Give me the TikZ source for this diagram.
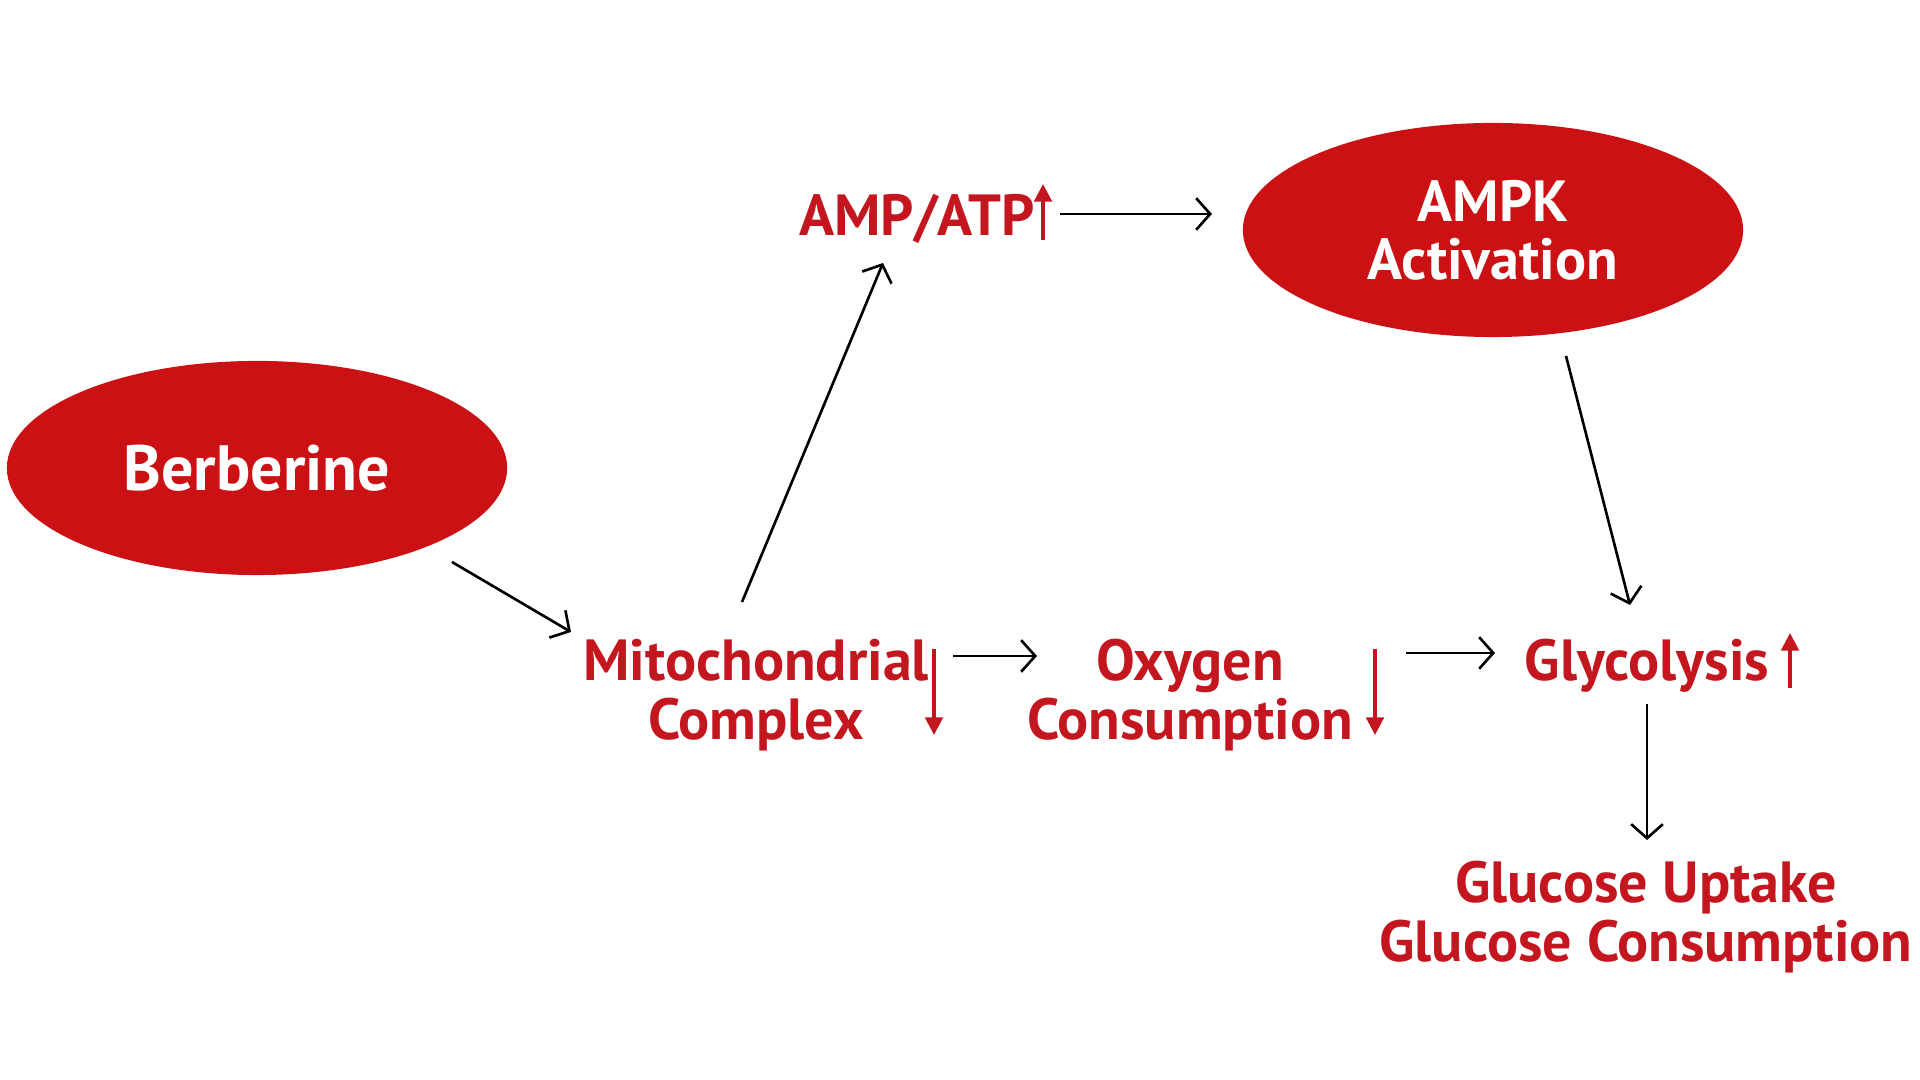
\documentclass[tikz,border=0pt]{standalone}
\usepackage{fontspec}
\setmainfont{PT Sans}
\usepackage{tikz}
\usetikzlibrary{arrows.meta, shapes.geometric, calc}
\definecolor{berbred}{RGB}{204,17,20}
\definecolor{textred}{RGB}{196,22,30}

\begin{document}
\begin{tikzpicture}[
        x=0.01cm, y=-0.01cm,
        blob/.style={ellipse, fill=berbred, minimum width=5cm, minimum height=2.14cm, align=center, text=white, font=\fontsize{16.5}{16.5}\selectfont\bfseries},
        term/.style={align=center, text=textred, inner sep=0pt, font=\fontsize{16.5}{16.8}\selectfont\bfseries},
        link/.style={-{Straight Barb[length=4pt, width=9pt]}, line width=0.75pt},
        trend/.style={-{Triangle[length=5pt, width=5pt]}, draw=textred, line width=0.9pt}
    ]
        \useasboundingbox (0,0) rectangle (1920,1080);
        \node[blob, font=\fontsize{18.2}{18.2}\selectfont\bfseries] (berb) at (257,468) {Berberine};
        \node[blob] (ampk) at (1493,230) {AMPK\\Activation};
        \node[term] (amp) at (917,219) {AMP/ATP};
        \node[term] (mito) at (756,695) {Mitochondrial\\Complex};
        \node[term] (oxy) at (1190,695) {Oxygen\\Consumption};
        \node[term] (glyc) at (1647,666) {Glycolysis};
        \node[term] (gluc) at (1646,917) {Glucose Uptake\\Glucose Consumption};

        % connectors
        \draw[link] ($(berb)+(195,94)$) -- ($(mito)+(-185,-63)$);
        \draw[link] ($(mito)+(-14,-93)$) -- ($(amp)+(-34,44)$);
        \draw[link] ($(amp)+(143,-5)$) -- ($(ampk)+(-281,-16)$);
        \draw[link] ($(ampk)+(73,126)$) -- ($(glyc)+(-17,-61)$);
        \draw[link] ($(mito)+(197,-39)$) -- ($(oxy)+(-153,-39)$);
        \draw[link] ($(oxy)+(216,-42)$) -- ($(glyc)+(-152,-13)$);
        \draw[link] ($(glyc)+(0,38)$) -- ($(gluc)+(1,-77)$);

        % up / down marks
        \draw[trend] ($(amp)+(126,21)$) -- ($(amp)+(126,-35)$);
        \draw[trend] ($(mito)+(178,-46)$) -- ($(mito)+(178,40)$);
        \draw[trend] ($(oxy)+(185,-46)$) -- ($(oxy)+(185,40)$);
        \draw[trend] ($(glyc)+(143,22)$) -- ($(glyc)+(143,-33)$);
\end{tikzpicture}
\end{document}
